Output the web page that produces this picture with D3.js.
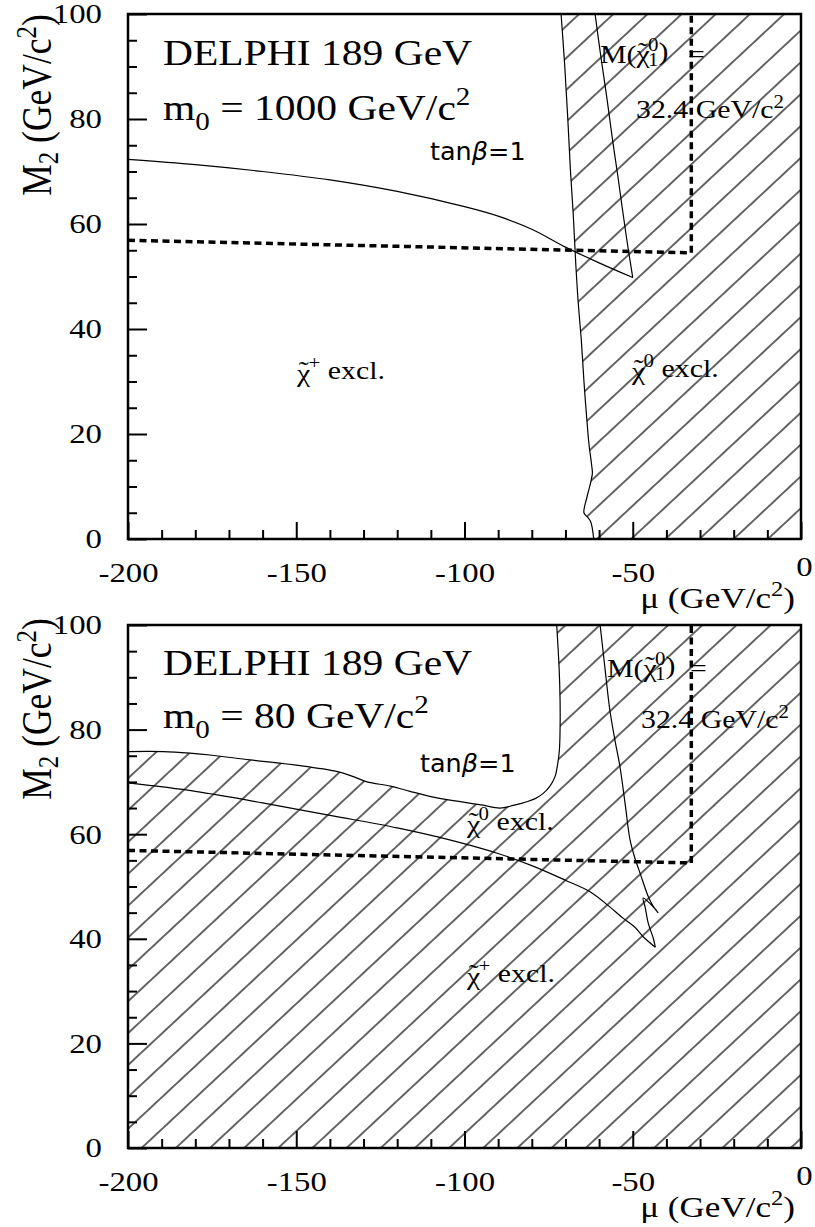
<!DOCTYPE html>
<html>
<head>
<meta charset="utf-8">
<script src="https://cdn.jsdelivr.net/npm/d3@7.9.0/dist/d3.min.js"></script>
<style>
  body { margin: 0; background: #fff; }
  svg { display: block; }
  text { font-family: "Liberation Serif", "Times New Roman", serif; fill: #000; }
  .sans { font-family: "DejaVu Sans", sans-serif; }
</style>
</head>
<body>
<svg id="chart" width="815" height="1227"></svg>
<script>
// axis ticks
const muTicks = [-200, -150, -100, -50, 0];
const m2Ticks = [0, 20, 40, 60, 80, 100];
const muMinor = d3.range(-190, 0, 10).filter(d => d % 50 !== 0);
const m2Minor = d3.range(5, 100, 5).filter(d => d % 20 !== 0);

// LEP kinematic limit M(chi1) = 32.4 GeV/c2 (same in both panels)
const dottedLimit = [[-200, 56.9], [-32.6, 54.5], [-32.6, 100]];

// top panel, m0 = 1000
const topCharginoLimit = [[-200, 72.3], [-180, 71.3], [-160, 70.0], [-140, 68.4], [-120, 66.2], [-100, 63.3],
  [-90, 61.5], [-80, 59.0], [-70, 55.6], [-60, 52.6], [-50, 49.8]];
const topNeutralinoLimit = [[-50, 49.8], [-52, 58], [-54.4, 69], [-56, 76], [-57.6, 83.6], [-59.5, 92], [-61.2, 100]];
const topExclEdge = [[-71.3, 100], [-70.2, 90], [-69.3, 80], [-68.5, 70], [-67.7, 62], [-66.9, 52], [-66.2, 45],
  [-65.3, 38], [-64.5, 30], [-63.8, 24], [-63.0, 18], [-62.2, 14], [-62.0, 12.5], [-62.6, 10.5], [-63.6, 8],
  [-64.5, 5], [-63.5, 4.2], [-62.5, 3.3], [-61.6, 0]];

// bottom panel, m0 = 80
const botCharginoLimit = [[-200, 69.8], [-180, 68.2], [-160, 66.0], [-140, 63.6], [-120, 61.2], [-105, 59.0],
  [-90, 56.3], [-80, 54.0], [-70, 51.2], [-62.7, 49.0], [-57, 46.2], [-52.8, 43.9], [-49.5, 42.3], [-46.9, 40.4], [-43.3, 38.4]];
const botNeutralinoLimit = [[-59.7, 100], [-58.3, 92], [-56.8, 83.7], [-55.3, 78], [-53.8, 72.9], [-52.2, 65.5],
  [-50.8, 58.9], [-49.4, 55.5], [-47.8, 52.5], [-45.4, 48.1], [-43.9, 46.2], [-42.5, 45.0], [-43.6, 45.9],
  [-46.9, 47.8], [-46.3, 46.0], [-45.4, 43.0], [-43.9, 40.1], [-43.3, 38.4]];
// edge of the non-excluded (white) island, from top right round to the left axis
const botAllowedEdge = [[-72.6, 100], [-71.9, 92], [-71.6, 85.7], [-71.6, 80], [-71.8, 76.1], [-72.3, 73.5],
  [-73.1, 71.0], [-74.6, 69.2], [-76.6, 67.8], [-79, 66.8], [-81.5, 66.2], [-85.5, 65.5], [-89.5, 65.0],
  [-95, 65.6], [-104.3, 66.5], [-110, 67.2], [-116.2, 68.2], [-122, 69.2], [-129, 70.0], [-133, 71.0],
  [-138, 72.0], [-150, 73.2], [-163.7, 74.2], [-175, 75.1], [-181.6, 75.5], [-189.5, 75.8], [-200, 75.8]];

const LEFT = 128, RIGHT = 801;
const SX = 1.17; // the scanned figure is a bit wider than tall
const svg = d3.select('#chart');
const defs = svg.append('defs');

function textWidth(str, size, cls) {
  const t = svg.append('text').attr('class', cls || null).style('font-size', size + 'px').text(str);
  const w = t.node().getComputedTextLength();
  t.remove();
  return w;
}

// segments: {t, k: size factor, b: baseline shift, dx, cls}
function rich(g, x, y, size, segs, opts = {}) {
  const t = g.append('text')
    .attr('transform', `translate(${x},${y}) scale(${opts.sx ?? SX},1)${opts.rot ? ' rotate(' + opts.rot + ')' : ''}`)
    .attr('text-anchor', opts.anchor || 'start')
    .attr('class', opts.cls || null)
    .style('font-size', size + 'px');
  let prev = 0;
  segs.forEach(s => {
    const b = s.b || 0;
    const ts = t.append('tspan').text(s.t).attr('dy', b - prev);
    prev = b;
    if (s.k) ts.style('font-size', (size * s.k) + 'px');
    if (s.dx) ts.attr('dx', s.dx);
    if (s.italic) ts.style('font-style', 'italic');
  });
  return t;
}

// chi with a tilde over it
function chiTilde(size) {
  const wc = textWidth('χ', size), wt = textWidth('˜', size);
  return [
    { t: 'χ' },
    { t: '˜', dx: -(wc + wt) / 2, b: -size * 0.12 },
    { t: '', dx: (wc - wt) / 2, b: 0 }
  ];
}

function hatch(id, ax, ay) {
  const h = 23.3;
  const p = defs.append('pattern').attr('id', id)
    .attr('patternUnits', 'userSpaceOnUse')
    .attr('width', 20).attr('height', h)
    .attr('patternTransform', `translate(${ax},${ay}) rotate(-43) translate(0,${-h / 2})`);
  p.append('line').attr('x1', -1).attr('x2', 21).attr('y1', h / 2).attr('y2', h / 2)
    .attr('stroke', '#000').attr('stroke-width', 1.2);
}

function drawPanel(p) {
  const x = d3.scaleLinear().domain([-200, 0]).range([LEFT, RIGHT]);
  const y = d3.scaleLinear().domain([0, 100]).range([p.bottom, p.top]);
  const g = svg.append('g');
  const clipId = 'clip' + p.id;
  defs.append('clipPath').attr('id', clipId).append('rect')
    .attr('x', LEFT).attr('y', p.top).attr('width', RIGHT - LEFT).attr('height', p.bottom - p.top);

  const curve = d3.line().x(d => x(d[0])).y(d => y(d[1])).curve(d3.curveCatmullRom.alpha(0.5));
  const straight = d3.line().x(d => x(d[0])).y(d => y(d[1]));
  const plot = g.append('g').attr('clip-path', `url(#${clipId})`);

  hatch('hatch' + p.id, p.hatchAt[0], p.hatchAt[1]);
  if (p.exclEdge) {
    plot.append('path')
      .attr('d', curve(p.exclEdge) + `L${x(0)},${y(0)}L${x(0)},${y(100)}Z`)
      .attr('fill', `url(#hatch${p.id})`);
    plot.append('path').attr('d', curve(p.exclEdge)).attr('fill', 'none').attr('stroke', '#000').attr('stroke-width', 1.2);
  }
  if (p.allowedEdge) {
    plot.append('rect').attr('x', LEFT).attr('y', p.top).attr('width', RIGHT - LEFT).attr('height', p.bottom - p.top)
      .attr('fill', `url(#hatch${p.id})`);
    plot.append('path')
      .attr('d', curve(p.allowedEdge) + `L${x(-200)},${y(100)}Z`)
      .attr('fill', '#fff');
    plot.append('path').attr('d', curve(p.allowedEdge)).attr('fill', 'none').attr('stroke', '#000').attr('stroke-width', 1.2);
  }
  [p.chargino, p.neutralino].forEach(d => {
    plot.append('path').attr('d', curve(d)).attr('fill', 'none').attr('stroke', '#000').attr('stroke-width', 1.2);
  });
  plot.append('path').attr('d', straight(dottedLimit)).attr('fill', 'none')
    .attr('stroke', '#000').attr('stroke-width', 3.5).attr('stroke-dasharray', '7,4.5');

  // axes
  const yAx = g.append('g').attr('transform', `translate(${LEFT},0)`)
    .call(d3.axisLeft(y).tickValues(m2Ticks).tickSize(-19).tickPadding(26).tickFormat(d => String(d)));
  g.append('g').attr('transform', `translate(${LEFT},0)`)
    .call(d3.axisLeft(y).tickValues(m2Minor).tickSize(-9).tickFormat(''));
  const xAx = g.append('g').attr('transform', `translate(0,${p.bottom})`)
    .call(d3.axisBottom(x).tickValues(muTicks).tickSize(-17).tickPadding(23).tickFormat(d => String(d)));
  g.append('g').attr('transform', `translate(0,${p.bottom})`)
    .call(d3.axisBottom(x).tickValues(muMinor).tickSize(-9).tickFormat(''));
  g.selectAll('.domain').remove();
  g.selectAll('.tick line').attr('stroke', '#000').attr('stroke-width', 2);
  [yAx, xAx].forEach(a => a.attr('font-family', null).attr('font-size', null));
  g.selectAll('.tick text').style('font-size', '28px').attr('fill', '#000').each(function (d) {
    const t = d3.select(this);
    let tx = +t.attr('x') || 0, ty = +t.attr('y') || 0;
    if (this.parentNode.parentNode === xAx.node() && d === 0) { tx += 3; ty -= 6; }
    t.attr('x', 0).attr('y', 0).attr('transform', `translate(${tx},${ty}) scale(${SX},1)`);
  });

  g.append('rect').attr('x', LEFT).attr('y', p.top).attr('width', RIGHT - LEFT).attr('height', p.bottom - p.top)
    .attr('fill', 'none').attr('stroke', '#000').attr('stroke-width', 2.5);

  // titles
  rich(g, 51, p.yTitleMid, 35.5, [
    { t: 'M' }, { t: '2', k: 0.7, b: 6 }, { t: ' (GeV/c', b: 0 }, { t: '2', k: 0.7, b: -13 }, { t: ')', b: 0 }
  ], { rot: -90, anchor: 'middle' });
  rich(g, 795, p.bottom + 69, 30, [
    { t: 'μ (GeV/c' }, { t: '2', k: 0.7, b: -12 }, { t: ')', b: 0 }
  ], { anchor: 'end' });

  // annotations
  rich(g, 163, p.top + p.h1, 35.5, [{ t: 'DELPHI 189 GeV' }]);
  rich(g, 163, p.top + p.h2, 35.5, [
    { t: 'm' }, { t: '0', k: 0.7, b: 10 }, { t: ' = ' + p.m0 + ' GeV/c', b: 0 }, { t: '2', k: 0.7, b: -15 }
  ]);
  rich(g, p.tanX, p.top + p.h3, 25.5, [
    { t: 'tan' }, { t: 'β', italic: true }, { t: '=1' }
  ], { cls: 'sans', sx: 1 });

  const fs = 25.5, w0 = textWidth('0', fs * 0.7);
  rich(g, p.mx[0], p.mx[1], fs, [
    { t: 'M(' }, ...chiTilde(fs), { t: '0', k: 0.7, b: -9 }, { t: '1', k: 0.7, b: 6, dx: -w0 }, { t: ')', b: 0 }
  ]);
  rich(g, p.eq[0], p.eq[1], fs, [{ t: '=' }]);
  rich(g, p.val[0], p.val[1], fs, [{ t: '32.4 GeV/c' }, { t: '2', k: 0.7, b: -10 }]);

  p.excl.forEach(e => {
    rich(g, e.x, e.y, fs, [...chiTilde(fs), { t: e.sign, k: 0.7, b: -10 }, { t: ' excl.', b: 0 }]);
  });
}

drawPanel({
  id: 0, top: 14, bottom: 539, hatchAt: [770, 537],
  chargino: topCharginoLimit, neutralino: topNeutralinoLimit, exclEdge: topExclEdge,
  yTitleMid: 105, h1: 51, h2: 106, h3: 146, tanX: 430, m0: '1000',
  mx: [600, 63], eq: [688, 63], val: [636, 118],
  excl: [{ x: 297, y: 382, sign: '+' }, { x: 632, y: 380, sign: '0' }]
});

drawPanel({
  id: 1, top: 625, bottom: 1148, hatchAt: [150, 1108.3],
  chargino: botCharginoLimit, neutralino: botNeutralinoLimit, allowedEdge: botAllowedEdge,
  yTitleMid: 709, h1: 50, h2: 103, h3: 147, tanX: 420, m0: '80',
  mx: [607, 677], eq: [690, 677], val: [641, 728],
  excl: [{ x: 467, y: 833, sign: '0' }, { x: 467, y: 985, sign: '+' }]
});
</script>
</body>
</html>
